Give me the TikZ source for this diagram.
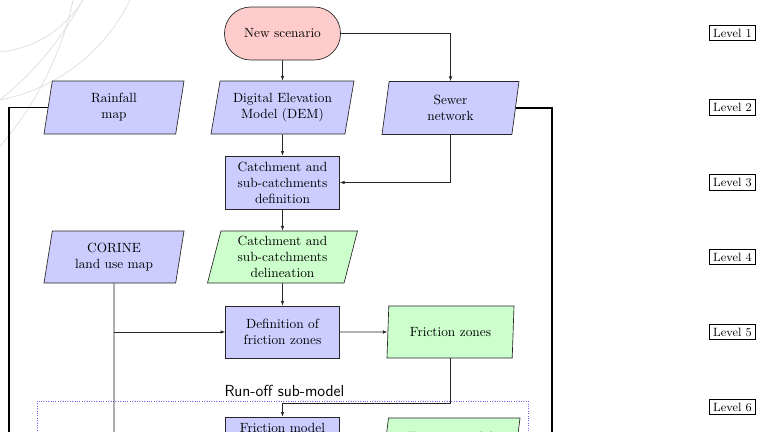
\documentclass[tikz,border=0pt]{standalone}
\usetikzlibrary{shapes.geometric,arrows.meta}
\begin{document}
\begin{tikzpicture}[x=0.75pt,y=-0.75pt,
  base/.style={draw=black!85, line width=0.5pt, align=center, inner sep=2pt},
  proc/.style={base, rectangle, fill=blue!20, minimum width=85.5pt, minimum height=39.75pt},
  data/.style={base, trapezium, trapezium stretches body, minimum height=39.75pt},
  datablue/.style={data, fill=blue!20},
  datagreen/.style={data, fill=green!20},
  startnode/.style={base, rectangle, rounded corners=19.7pt, fill=red!20, minimum width=87pt, minimum height=39.75pt},
  levelbox/.style={draw, font=\small, inner sep=2.6pt, line width=0.5pt},
  conn/.style={-{Latex[length=3.5pt,width=2.6pt]}, line width=0.5pt, draw=black!85},
  plainline/.style={line width=0.5pt, draw=black!90},
  side/.style={line width=0.8pt, draw=black},
  groupbox/.style={draw=blue!60, line width=0.7pt, dash pattern=on 0.6pt off 1.2pt},
  deco/.style={draw=black!12, line width=0.6pt},
]
\useasboundingbox (0,0) rectangle (757,432);
\clip (0,0) rectangle (757,432);

% decorative background arcs (top-left corner)
\draw[deco] (-10.5,-57) circle[radius=82.1pt];
\draw[deco] (-35,-80) circle[radius=137.5pt];
\draw[deco] (-200,-150) circle[radius=240pt];
\draw[deco] (-250,-70) circle[radius=247.9pt];

% nodes
\node[startnode] (new) at (282.5,33.5) {New scenario};
\node[datablue, minimum width=105pt, trapezium left angle=76, trapezium right angle=104] (rain) at (114,107.5) {Rainfall\\map};
\node[datablue, minimum width=107.25pt, trapezium left angle=75, trapezium right angle=105] (dem) at (282.5,107.5) {Digital Elevation\\Model (DEM)};
\node[datablue, minimum width=102.75pt, trapezium left angle=77, trapezium right angle=103] (sewer) at (450.5,108) {Sewer\\network};
\node[proc] (catdef) at (282.5,182.5) {Catchment and\\sub-catchments\\definition};
\node[datablue, minimum width=105pt, minimum height=39pt, trapezium left angle=76, trapezium right angle=104] (corine) at (114,257) {CORINE\\land use map};
\node[datagreen, minimum width=112.5pt, minimum height=39pt, trapezium left angle=74, trapezium right angle=106] (catdel) at (282.5,257) {Catchment and\\sub-catchments\\delineation};
\node[proc, minimum height=39pt] (frdef) at (282.5,332) {Definition of\\friction zones};
\node[datagreen, minimum width=95.25pt, minimum height=39pt, trapezium left angle=83, trapezium right angle=97] (frzones) at (450.5,332) {Friction zones};
\node[font=\sffamily\large, inner sep=0pt] (runoff) at (284.5,391) {Run-off sub-model};
\node[proc] (frmodel) at (282.5,443.5) {Friction model\\\mbox{}\\\mbox{}};
\node[datagreen, minimum width=103.5pt, trapezium left angle=78, trapezium right angle=102] (frdata) at (451,444.5) {Friction model\\\mbox{}};

% level labels
\foreach \i/\yy in {1/33,2/107.5,3/182.5,4/257,5/332,6/407}
  \node[levelbox, anchor=east] (lv\i) at (755.5,\yy) {Level \i};

% group frame
\coordinate (gtl) at (37,401);
\coordinate (gbr) at (528,480);
\draw[groupbox] (gtl) rectangle (gbr);

% connectors
\draw[conn] (new) -- (dem);
\draw[conn] (new.east) -| (sewer.north);
\draw[conn] (dem) -- (catdef);
\draw[conn] (sewer.south) |- (catdef.east);
\draw[conn] (catdef) -- (catdel);
\draw[conn] (catdel) -- (frdef);
\coordinate (corineend) at (114,450);
\draw[plainline] (corine.south) -- (corineend);
\draw[conn] (corine.south |- frdef.west) -- (frdef.west);
\draw[conn] (frdef.east) -- (frzones.west);
\coordinate (joiny) at (0,403);
\draw[conn] (frzones.south) |- (frmodel.north |- joiny) -- (frmodel.north);
\coordinate (leftend) at (9,450);
\draw[side] (rain.west) -| (leftend);
\coordinate (rightend) at (552,450);
\draw[side] (sewer.east) -| (rightend);
\end{tikzpicture}
\end{document}
